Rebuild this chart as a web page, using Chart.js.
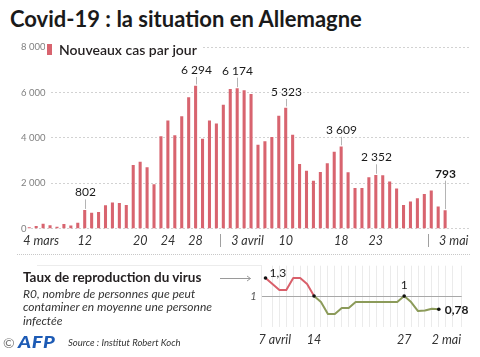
<!DOCTYPE html>
<html><head><meta charset="utf-8">
<script src="https://cdn.jsdelivr.net/npm/chart.js@4.4.1/dist/chart.umd.min.js"></script>
<style>
html,body{margin:0;padding:0;background:#fff;}
#wrap{position:relative;width:480px;height:357px;overflow:hidden;font-family:Lato,"Open Sans",sans-serif;color:#231f20;}
canvas{position:absolute;left:0;top:0;}
.t{position:absolute;white-space:nowrap;}
</style></head><body>
<div id="wrap">
<div class="t" style="left:10px;top:6px;font-size:22px;font-weight:700;line-height:26px;color:#1a1a1a;">Covid-19 : la situation en Allemagne</div>
<canvas id="bars" width="480" height="357"></canvas>
<canvas id="rchart" width="480" height="357"></canvas>
<div style="position:absolute;left:17px;top:254px;width:453px;border-top:1px dotted #c8c8c8;"></div>
<div style="position:absolute;left:37px;top:265px;width:225px;border-top:1px solid #ececec;"></div>
<div class="t" style="left:23px;top:269px;font-size:13.5px;font-weight:700;line-height:17px;">Taux de reproduction du virus</div>
<div class="t" style="left:23px;top:287px;font-size:12px;font-style:italic;line-height:13.4px;color:#333;">R0, nombre de personnes que peut<br>contaminer en moyenne une personne<br>infectée</div>
<div class="t" style="left:3px;top:333px;line-height:18px;"><span style="font-size:14px;color:#777;">©</span><span style="display:inline-block;margin-left:3px;font-size:16px;font-weight:900;font-style:italic;color:#1d5bb5;letter-spacing:0.5px;transform:scaleX(1.25);transform-origin:left center;">AFP</span></div>
<div class="t" style="left:68px;top:336px;font-size:9.5px;font-style:italic;line-height:14px;color:#333;">Source : Institut Robert Koch</div>
</div>
<script>
// ---- Data ----
const dates = ["4 mars","5 mars","6 mars","7 mars","8 mars","9 mars","10 mars","11 mars","12 mars","13 mars","14 mars","15 mars","16 mars","17 mars","18 mars","19 mars","20 mars","21 mars","22 mars","23 mars","24 mars","25 mars","26 mars","27 mars","28 mars","29 mars","30 mars","31 mars",
"1 avril","2 avril","3 avril","4 avril","5 avril","6 avril","7 avril","8 avril","9 avril","10 avril","11 avril","12 avril","13 avril","14 avril","15 avril","16 avril","17 avril","18 avril","19 avril","20 avril","21 avril","22 avril","23 avril","24 avril","25 avril","26 avril","27 avril","28 avril","29 avril","30 avril",
"1 mai","2 mai","3 mai"];
const cases = [40,100,200,130,70,190,120,240,802,680,720,1015,1140,1110,1030,2790,2940,2690,1940,4060,4750,4100,4940,5780,6294,3955,4750,4620,
5455,6150,6174,6090,5930,3690,3840,4030,4970,5323,4130,2840,2540,2100,2485,2865,3380,3609,2470,1780,1780,2250,2352,2340,2060,1750,1030,1180,1325,1515,
1665,960,793];
const yTicks = [0,2000,4000,6000,8000];
const xTickIdx = [0,8,16,20,24,30,37,45,50,60];
const xTickText = ["4 mars","12","20","24","28","3 avril","10","18","23","3 mai"];
const annIdx = [8,24,30,37,45,50,60];

const rDates = ["7 avril","8 avril","9 avril","10 avril","11 avril","12 avril","13 avril","14 avril","15 avril","16 avril","17 avril","18 avril","19 avril","20 avril","21 avril","22 avril","23 avril","24 avril","25 avril","26 avril","27 avril","28 avril","29 avril","30 avril","1 mai","2 mai"];
const rValues = [1.3,1.2,1.1,1.1,1.3,1.3,1.2,1.0,0.9,0.7,0.7,0.8,0.8,0.9,0.9,0.9,0.9,0.9,0.9,0.9,1.0,0.9,0.75,0.76,0.79,0.78];
const rTickIdx = [0,7,20,25];
const rTickText = ["7 avril","14","27","2 mai"];
const rMarkIdx = [0,7,20,25];
const rLabelIdx = [0,20,25];

// ---- Styles ----
const RED = '#d8646f', LRED = '#d9606b', GREEN = '#8c9b5a';
const annOffset = [18,16,18,16,17,18,37];
const FONT = 'Lato, "Open Sans", sans-serif';

function fmt(v){ return String(v).replace(/\B(?=(\d{3})+(?!\d))/g,' '); }
function fmtDec(v){ return String(v).replace('.',','); }
function monthOf(s){ return s.split(' ')[1]; }

const barDeco = {
  id:'barDeco',
  afterDraw(chart){
    const ctx = chart.ctx, xs = chart.scales.x, ys = chart.scales.y;
    ctx.save();
    // legend
    ctx.fillStyle='#fff'; ctx.fillRect(45,40,158,17);
    ctx.fillStyle=RED; ctx.fillRect(47,44,5,11);
    ctx.fillStyle='#231f20'; ctx.font='600 14px '+FONT; ctx.textBaseline='middle'; ctx.textAlign='left';
    ctx.fillText(chart.data.datasets[0].label, 59, 50);
    // annotations
    annIdx.forEach((i,k)=>{
      const x = Math.round(xs.getPixelForValue(i))+0.5, yt = ys.getPixelForValue(cases[i]);
      const ly = yt - annOffset[k];
      ctx.strokeStyle='#b4b4b4'; ctx.lineWidth=1;
      ctx.beginPath(); ctx.moveTo(x, yt-1.5); ctx.lineTo(x, ly+7); ctx.stroke();
      ctx.font=(k===annIdx.length-1?'700 ':'400 ')+'12px '+FONT; ctx.fillStyle='#1a1a1a'; ctx.textAlign='center';
      ctx.fillText(fmt(cases[i]), x, ly);
    });
    // x labels
    ctx.font='italic 12.5px '+FONT; ctx.fillStyle='#333';
    xTickIdx.forEach((i,k)=>{
      const x = xs.getPixelForValue(i), t = xTickText[k];
      if (t.indexOf(' ')>=0){ ctx.textAlign='left'; ctx.fillText(t, x-6, 241); }
      else { ctx.textAlign='center'; ctx.fillText(t, x, 241); }
    });
    // month separators
    ctx.strokeStyle='#a0a0a0'; ctx.lineWidth=1;
    for (let i=1;i<dates.length;i++){
      if (monthOf(dates[i])!==monthOf(dates[i-1])){
        const x = Math.round(xs.getPixelForValue(i-0.5))+0.5;
        ctx.beginPath(); ctx.moveTo(x,234); ctx.lineTo(x,247); ctx.stroke();
      }
    }
    ctx.restore();
  }
};

new Chart(document.getElementById('bars'), {
  type:'bar',
  data:{ datasets:[{ label:'Nouveaux cas par jour', data: cases.map((v,i)=>({x:i,y:v})), backgroundColor:RED, barThickness:2.4 }]},
  options:{
    responsive:false, animation:false, devicePixelRatio:1,
    layout:{padding:{left:15,right:10,top:47.3,bottom:128.4}},
    plugins:{legend:{display:false}, tooltip:{enabled:false}},
    scales:{
      x:{type:'linear', min:-1.48, max:63.59, offset:false, display:false, grid:{offset:false}},
      y:{min:0, max:8000,
         afterBuildTicks: ax => { ax.ticks = yTicks.map(v=>({value:v})); },
         grid:{color:'#d2d2d2', drawTicks:false, lineWidth:1},
         border:{display:false, dash:[2,2]},
         ticks:{mirror:true, padding:2, color:'#808080', font:{family:FONT, size:9.5},
                callback: v => fmt(v), showLabelBackdrop:true, backdropColor:'#fff',
                backdropPadding:{left:2,right:4,top:0,bottom:0}}
      }
    }
  },
  plugins:[barDeco]
});

const rDeco = {
  id:'rDeco',
  afterDraw(chart){
    const ctx = chart.ctx, xs = chart.scales.x, ys = chart.scales.y;
    ctx.save();
    ctx.textBaseline='middle';
    // x labels
    ctx.font='italic 12.5px '+FONT; ctx.fillStyle='#333';
    rTickIdx.forEach((i,k)=>{
      const x = xs.getPixelForValue(i), t = rTickText[k];
      if (t.indexOf(' ')>=0){ ctx.textAlign='left'; ctx.fillText(t, x-7, 340); }
      else { ctx.textAlign='center'; ctx.fillText(t, x, 340); }
    });
    // axis label "1"
    ctx.font='italic 11px '+FONT; ctx.fillStyle='#555'; ctx.textAlign='right';
    ctx.fillText('1', xs.left-5, ys.getPixelForValue(1));
    // point labels
    rLabelIdx.forEach((i,k)=>{
      const x = xs.getPixelForValue(i), y = ys.getPixelForValue(rValues[i]);
      ctx.fillStyle='#1a1a1a';
      if (k===0){ ctx.font='400 12px '+FONT; ctx.textAlign='left'; ctx.fillText(fmtDec(rValues[i]), x+4, y-5); }
      else if (k===rLabelIdx.length-1){ ctx.font='700 12px '+FONT; ctx.textAlign='left'; ctx.fillText(fmtDec(rValues[i]), x+6, y+1); }
      else { ctx.font='400 12px '+FONT; ctx.textAlign='center'; ctx.fillText(fmtDec(rValues[i]), x, y-11); }
    });
    // arrow from title
    const ay = Math.round(ys.getPixelForValue(rValues[0]))+0.5, ax2 = xs.getPixelForValue(0)-15;
    ctx.strokeStyle='#9a9a9a'; ctx.lineWidth=1;
    ctx.beginPath(); ctx.moveTo(220,ay); ctx.lineTo(ax2,ay); ctx.stroke();
    ctx.beginPath(); ctx.moveTo(ax2-3.5,ay-2.5); ctx.lineTo(ax2,ay); ctx.lineTo(ax2-3.5,ay+2.5); ctx.stroke();
    ctx.restore();
  }
};

new Chart(document.getElementById('rchart'), {
  type:'line',
  data:{ datasets:[{
    data: rValues.map((v,i)=>({x:i,y:v})),
    borderWidth:2, tension:0, borderColor:GREEN, borderJoinStyle:'round',
    segment:{ borderColor: c => (c.p0.parsed.y>1.001 || c.p1.parsed.y>1.001) ? LRED : GREEN },
    pointRadius: c => rMarkIdx.includes(c.dataIndex) ? 1.8 : 0,
    pointBackgroundColor:'#111', pointBorderWidth:0
  }]},
  options:{
    responsive:false, animation:false, devicePixelRatio:1,
    layout:{padding:{left:261.7,right:18.3,top:265.7,bottom:30.3}},
    plugins:{legend:{display:false}, tooltip:{enabled:false}},
    scales:{
      x:{type:'linear', min:-0.55, max:28.3, ticks:{display:false, stepSize:1},
         grid:{color:'#ebebeb', drawTicks:false}, border:{display:false}},
      y:{min:0.49, max:1.505, afterBuildTicks: ax => { ax.ticks=[{value:1}]; },
         ticks:{display:false}, grid:{color:'#a8a8a8', drawTicks:false}, border:{display:false}}
    }
  },
  plugins:[rDeco]
});
</script>
</body></html>
